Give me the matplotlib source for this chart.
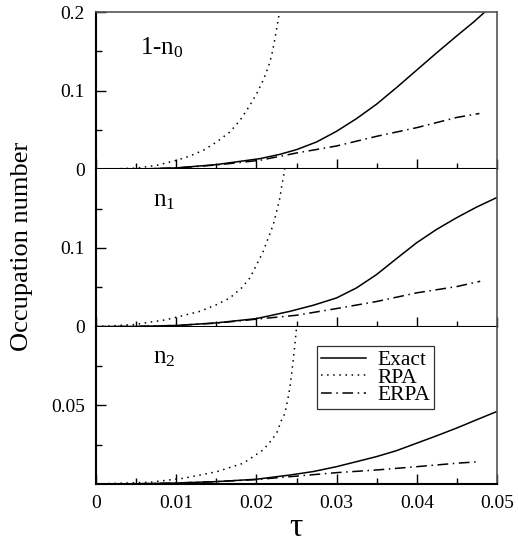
import matplotlib
matplotlib.use("Agg")
import matplotlib.pyplot as plt
from matplotlib.ticker import MultipleLocator, FixedLocator

plt.rcParams.update({
    "font.family": ["Liberation Serif", "DejaVu Serif"],
    "mathtext.fontset": "custom",
    "mathtext.rm": "Liberation Serif",
    "mathtext.it": "Liberation Serif:italic",
    "font.size": 14,
})

# ---- values ----
# panel 1: 1-n0
tau_ex0 = [0, 0.005, 0.01, 0.015, 0.0175, 0.02045, 0.02294, 0.02502, 0.02751, 0.03, 0.03249,
           0.03498, 0.03748, 0.03997, 0.04246, 0.04495, 0.04703, 0.04848, 0.05]
exact0 = [0, 0.0003, 0.0018, 0.006, 0.0095, 0.0136, 0.0191, 0.0251, 0.0348, 0.0484, 0.0645,
          0.0828, 0.104, 0.126, 0.148, 0.1694, 0.1868, 0.2, 0.213]
tau_er0 = [0, 0.005, 0.01, 0.015, 0.02045, 0.02502, 0.03, 0.035, 0.04, 0.045, 0.0478]
erpa0 = [0, 0.0003, 0.0017, 0.0055, 0.0115, 0.0208, 0.0297, 0.042, 0.053, 0.066, 0.071]
tau_rp0 = [0, 0.005, 0.00757, 0.01006, 0.01172, 0.01338, 0.01505, 0.01671, 0.01796, 0.0192,
           0.02004, 0.02086, 0.02149, 0.02191, 0.02224, 0.02253, 0.02278, 0.0231]
rpa0 = [0, 0.0015, 0.0051, 0.0115, 0.017, 0.0242, 0.0348, 0.0476, 0.0624, 0.0815,
        0.0964, 0.1134, 0.1303, 0.1452, 0.1622, 0.1792, 0.194, 0.215]

# panel 2: n1
tau_ex1 = [0, 0.005, 0.01, 0.015, 0.02, 0.02419, 0.02709, 0.02999, 0.03249, 0.03498, 0.03748,
           0.03997, 0.04246, 0.04495, 0.04745, 0.04995]
exact1 = [0, 0.0003, 0.0015, 0.0048, 0.0102, 0.0195, 0.0272, 0.0365, 0.0493, 0.0662, 0.0866,
          0.1066, 0.1236, 0.1384, 0.152, 0.164]
tau_er1 = [0, 0.005, 0.01, 0.015, 0.02, 0.025, 0.03, 0.035, 0.04, 0.045, 0.0479]
erpa1 = [0, 0.0003, 0.0015, 0.0045, 0.0095, 0.0145, 0.023, 0.032, 0.043, 0.051, 0.0577]
tau_rp1 = [0, 0.00466, 0.00881, 0.01297, 0.01505, 0.01671, 0.01816, 0.0192, 0.02004, 0.02086,
           0.02149, 0.02211, 0.02253, 0.02294, 0.02319, 0.02336, 0.0236]
rpa1 = [0, 0.0025, 0.0089, 0.0195, 0.028, 0.0366, 0.0493, 0.062, 0.079, 0.0959,
        0.113, 0.1299, 0.1469, 0.164, 0.181, 0.1894, 0.205]

# panel 3: n2
tau_ex2 = [0, 0.005, 0.01, 0.015, 0.02, 0.02419, 0.02709, 0.02999, 0.03249, 0.03498, 0.03748,
           0.03997, 0.04246, 0.04495, 0.04745, 0.04995]
exact2 = [0, 0.0001, 0.0006, 0.0015, 0.003, 0.0057, 0.0079, 0.011, 0.0142, 0.0174, 0.0212,
          0.0259, 0.0306, 0.0355, 0.0408, 0.046]
tau_er2 = [0, 0.005, 0.01, 0.015, 0.02, 0.025, 0.03, 0.035, 0.04, 0.045, 0.0479]
erpa2 = [0, 0.0001, 0.0006, 0.0015, 0.0028, 0.005, 0.0072, 0.0089, 0.011, 0.0132, 0.0142]
tau_rp2 = [0, 0.00673, 0.01089, 0.01505, 0.01837, 0.02086, 0.02191, 0.02253, 0.02315, 0.02357,
           0.02398, 0.02419, 0.0244, 0.0246, 0.02477, 0.02494, 0.0251]
rpa2 = [0, 0.0011, 0.0036, 0.0078, 0.0132, 0.0217, 0.028, 0.0323, 0.0408, 0.045,
        0.0556, 0.062, 0.0705, 0.079, 0.0875, 0.096, 0.105]

panel_labels = ["1-n$_0$", "n$_1$", "n$_2$"]
ylims = [0.2, 0.2, 0.1]

DOT = (0, (1, 3))
DASHDOT = (0, (7, 3, 1, 3))

fig, axes = plt.subplots(3, 1, sharex=True, figsize=(5.18, 5.46), dpi=100)
fig.subplots_adjust(left=0.1853, right=0.9595, top=0.978, bottom=0.1136, hspace=0)

series = [
    (tau_ex0, exact0, tau_rp0, rpa0, tau_er0, erpa0),
    (tau_ex1, exact1, tau_rp1, rpa1, tau_er1, erpa1),
    (tau_ex2, exact2, tau_rp2, rpa2, tau_er2, erpa2),
]
label_pos = [(0.11, 0.77), (0.142, 0.80), (0.142, 0.80)]

for i, ax in enumerate(axes):
    tx, ex, tr, rp, te, er = series[i]
    ax.plot(tx, ex, color="black", lw=1.1, ls="-", label="Exact")
    ax.plot(tr, rp, color="black", lw=1.1, ls=DOT, label="RPA")
    ax.plot(te, er, color="black", lw=1.1, ls=DASHDOT, label="ERPA")
    ax.set_xlim(0, 0.05)
    ax.set_ylim(0, ylims[i])
    ax.text(label_pos[i][0], label_pos[i][1], panel_labels[i],
            transform=ax.transAxes, fontsize=18, ha="left", va="center")

    ax.xaxis.set_major_locator(MultipleLocator(0.01))
    ax.xaxis.set_minor_locator(MultipleLocator(0.005))
    ax.tick_params(which="both", direction="in", top=False, right=False, labelsize=14)
    ax.tick_params(which="major", length=7, width=1.0, pad=8)
    ax.tick_params(which="minor", length=4, width=1.0)

    for side in ["left", "bottom"]:
        ax.spines[side].set_linewidth(1.5)
        ax.spines[side].set_color("black")
    ax.spines["right"].set_linewidth(1.2)
    ax.spines["right"].set_color("#555555")
    if i == 0:
        ax.spines["top"].set_linewidth(1.2)
        ax.spines["top"].set_color("#555555")
    else:
        ax.spines["top"].set_visible(False)

axes[0].yaxis.set_major_locator(FixedLocator([0, 0.1, 0.2]))
axes[0].yaxis.set_minor_locator(FixedLocator([0.05, 0.15]))
axes[0].set_yticklabels(["0", "0.1", "0.2"])
axes[1].yaxis.set_major_locator(FixedLocator([0, 0.1]))
axes[1].yaxis.set_minor_locator(FixedLocator([0.05, 0.15]))
axes[1].set_yticklabels(["0", "0.1"])
axes[2].yaxis.set_major_locator(FixedLocator([0.05]))
axes[2].yaxis.set_minor_locator(FixedLocator([0.025, 0.075]))
axes[2].set_yticklabels(["0.05"])

axes[2].set_xticks([0, 0.01, 0.02, 0.03, 0.04, 0.05])
axes[2].set_xticklabels(["0", "0.01", "0.02", "0.03", "0.04", "0.05"])
axes[2].set_xlabel("τ", fontsize=24, labelpad=0)

leg = axes[2].legend(loc="upper left", bbox_to_anchor=(0.551, 0.879), fontsize=15.5,
                     frameon=True, fancybox=False, handlelength=2.1, handletextpad=0.5,
                     borderpad=0.2, labelspacing=-0.12, borderaxespad=0)
leg.get_frame().set_edgecolor("black")
leg.get_frame().set_linewidth(0.9)

fig.text(0.042, 1 - 246 / 546, "Occupation number", rotation=90, fontsize=19,
         ha="center", va="center")

fig.savefig("out.png", dpi=100)
